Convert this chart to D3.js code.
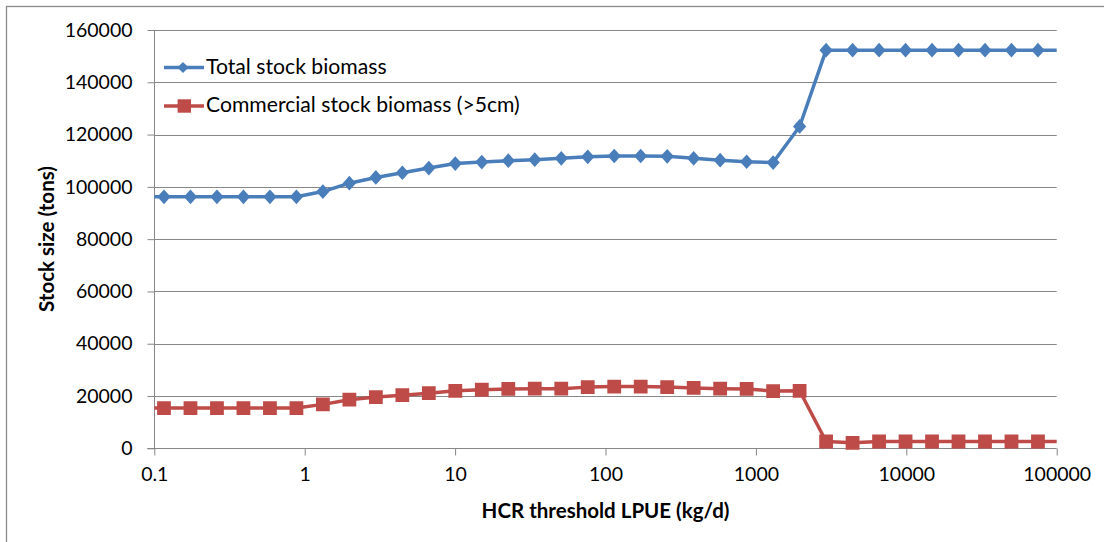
<!DOCTYPE html>
<html>
<head>
<meta charset="utf-8">
<script src="https://cdn.jsdelivr.net/npm/d3@7"></script>
<style>
  html, body { margin: 0; padding: 0; background: #fff; }
  svg { display: block; }
  text { font-family: Lato, "Open Sans", sans-serif; fill: #000; }
</style>
</head>
<body>
<svg id="chart" width="1104" height="542"></svg>
<script>
// ---- data ----
const thresholds = [0.07733, 0.1160, 0.1740, 0.2610, 0.3915, 0.5873, 0.8809, 1.321, 1.982, 2.973, 4.460, 6.689, 10.03, 15.05, 22.58, 33.86, 50.80, 76.19, 114.3, 171.4, 257.2, 385.7, 578.6, 867.9, 1302, 1953, 2929, 4394, 6591, 9886, 14829, 22244, 33366, 50048, 75073, 112610];
const totalBiomass = [96200, 96200, 96200, 96200, 96200, 96200, 96200, 98200, 101400, 103600, 105400, 107200, 108900, 109500, 110000, 110400, 110900, 111500, 111800, 111800, 111700, 110900, 110200, 109600, 109300, 123100, 152300, 152300, 152300, 152300, 152300, 152300, 152300, 152300, 152300, 152300];
const commercialBiomass = [15400, 15400, 15400, 15400, 15400, 15400, 15400, 16800, 18600, 19600, 20300, 21100, 22000, 22400, 22700, 22800, 22800, 23400, 23600, 23600, 23400, 23100, 22800, 22700, 21900, 22000, 2600, 2100, 2600, 2600, 2600, 2600, 2600, 2600, 2600, 2600];
const xTicks = [0.1, 1, 10, 100, 1000, 10000, 100000];
const xTickLabels = ["0.1", "1", "10", "100", "1000", "10000", "100000"];
const yTicks = [0, 20000, 40000, 60000, 80000, 100000, 120000, 140000, 160000];
const seriesNames = ["Total stock biomass", "Commercial stock biomass (>5cm)"];
const seriesColors = ["#4A7EBB", "#BE4B48"];
const xTitle = "HCR threshold LPUE (kg/d)";
const yTitle = "Stock size (tons)";

// ---- layout ----
const svg = d3.select("#chart");
const plot = { left: 154.3, right: 1056.7, top: 30, bottom: 448.3 };
const x = d3.scaleLog().domain([0.1, 100000]).range([plot.left, plot.right]);
const y = d3.scaleLinear().domain([0, 160000]).range([plot.bottom, plot.top]);
const gridColor = "#878787";

// fit a text element's font size so that its length matches a target
function fitText(sel, target) {
  const fs = parseFloat(sel.style("font-size"));
  const len = sel.node().getComputedTextLength();
  if (len > 0) sel.style("font-size", (fs * target / len).toFixed(2) + "px");
  return sel;
}

// outer border
svg.append("rect").attr("x", 6.5).attr("y", 6.5).attr("width", 1300).attr("height", 700)
  .attr("fill", "none").attr("stroke", "#8a8a8a").attr("stroke-width", 1.3);

// gridlines
svg.append("g").selectAll("line").data(yTicks.filter(d => d > 0)).join("line")
  .attr("x1", plot.left).attr("x2", plot.right)
  .attr("y1", d => Math.round(y(d)) + 0.5).attr("y2", d => Math.round(y(d)) + 0.5)
  .attr("stroke", gridColor).attr("stroke-width", 1);

// y axis
const yAxis = d3.axisLeft(y).tickValues(yTicks).tickSize(7).tickPadding(15).tickFormat(d3.format("d"));
const gy = svg.append("g").attr("transform", `translate(${Math.round(plot.left) + 0.5},0)`).call(yAxis);
gy.select(".domain").attr("stroke", gridColor).attr("d", `M0,${plot.top}V${plot.bottom}`);
gy.selectAll(".tick line").attr("stroke", gridColor);
gy.selectAll(".tick text").style("font-family", "Lato, sans-serif").style("font-size", "19.5px").attr("fill", "#000");

// x axis
const xAxis = d3.axisBottom(x).tickValues(xTicks).tickSize(7).tickPadding(12)
  .tickFormat((d, i) => xTickLabels[i]);
const gx = svg.append("g").attr("transform", `translate(0,${Math.round(plot.bottom) + 0.5})`).call(xAxis);
gx.select(".domain").attr("stroke", gridColor).attr("d", `M${plot.left - 7},0H${plot.right}`);
gx.selectAll(".tick line").attr("stroke", gridColor);
gx.selectAll(".tick text").style("font-family", "Lato, sans-serif").style("font-size", "19.5px").attr("fill", "#000");

// clip
svg.append("clipPath").attr("id", "clip").append("rect")
  .attr("x", plot.left).attr("y", plot.top - 20).attr("width", plot.right - plot.left).attr("height", plot.bottom - plot.top + 40);

const series = [totalBiomass, commercialBiomass];
const pts = s => thresholds.map((t, i) => ({ t, v: s[i] }));
const line = d3.line().x(d => x(d.t)).y(d => y(d.v));
const inDomain = d => d.t >= 0.1 && d.t <= 100000;

const g = svg.append("g").attr("clip-path", "url(#clip)");
series.forEach((s, si) => {
  g.append("path").datum(pts(s)).attr("d", line)
    .attr("fill", "none").attr("stroke", seriesColors[si]).attr("stroke-width", 3.5).attr("stroke-linejoin", "round");
});
// markers
const diamond = d3.symbol().type(d3.symbolDiamond2).size(125);
const square = d3.symbol().type(d3.symbolSquare).size(190);
g.append("g").selectAll("path").data(pts(totalBiomass).filter(inDomain)).join("path")
  .attr("d", diamond).attr("transform", d => `translate(${x(d.t)},${y(d.v)}) scale(0.95,1.05)`).attr("fill", seriesColors[0]);
g.append("g").selectAll("path").data(pts(commercialBiomass).filter(inDomain)).join("path")
  .attr("d", square).attr("transform", d => `translate(${x(d.t)},${y(d.v)})`).attr("fill", seriesColors[1]);

// legend
const legY = [67.5, 106];
const legBase = [74, 112];
const legLen = [180.7, 314];
const legSym = [d3.symbol().type(d3.symbolDiamond2).size(80), d3.symbol().type(d3.symbolSquare).size(180)];
const legSymX = [183, 184.3];
const leg = svg.append("g");
seriesNames.forEach((name, i) => {
  leg.append("line").attr("x1", 164).attr("x2", 204).attr("y1", legY[i]).attr("y2", legY[i])
    .attr("stroke", seriesColors[i]).attr("stroke-width", 3.5);
  leg.append("path").attr("d", legSym[i])
    .attr("transform", `translate(${legSymX[i]},${legY[i]})`).attr("fill", seriesColors[i]);
  const t = leg.append("text").attr("x", 206).attr("y", legBase[i])
    .style("font-size", "20px").text(name);
  fitText(t, legLen[i]);
});

// axis titles
fitText(svg.append("text").attr("x", 605.5).attr("y", 518).attr("text-anchor", "middle")
  .style("font-size", "20px").style("font-weight", "bold").text(xTitle), 248);
fitText(svg.append("text").attr("transform", "translate(54,239) rotate(-90)").attr("text-anchor", "middle")
  .style("font-size", "20px").style("font-weight", "bold").text(yTitle), 146);
</script>
</body>
</html>
